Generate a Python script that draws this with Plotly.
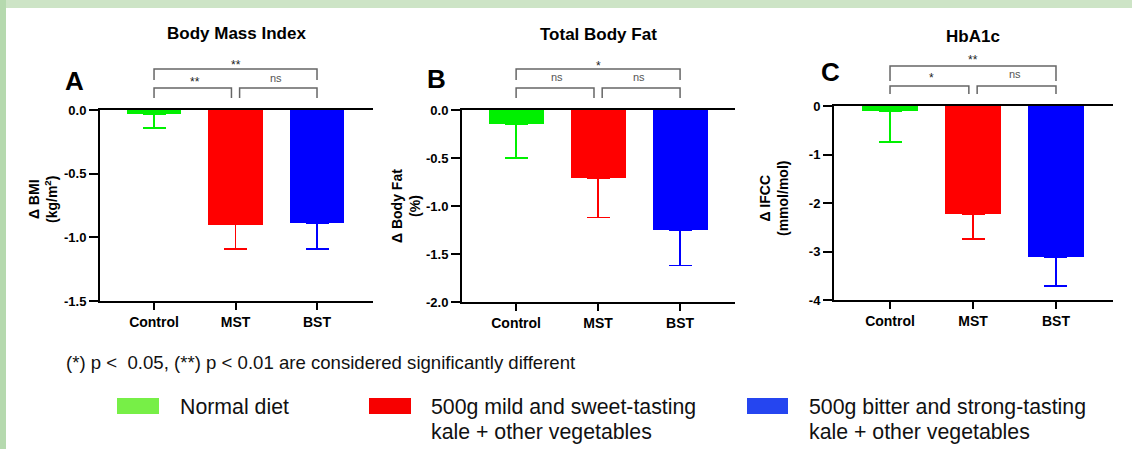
import plotly.graph_objects as go

# ---------------- data ----------------
categories = ["Control", "MST", "BST"]

bmi_mean = [-0.03, -0.90, -0.89]
bmi_err = [0.11, 0.19, 0.20]
bmi_ticks = [0, -0.5, -1.0, -1.5]
bmi_ticktext = ["0.0", "-0.5", "-1.0", "-1.5"]

fat_mean = [-0.15, -0.71, -1.25]
fat_err = [0.35, 0.41, 0.37]
fat_ticks = [0, -0.5, -1.0, -1.5, -2.0]
fat_ticktext = ["0.0", "-0.5", "-1.0", "-1.5", "-2.0"]

hba_mean = [-0.10, -2.23, -3.11]
hba_err = [0.64, 0.51, 0.60]
hba_ticks = [0, -1, -2, -3, -4]
hba_ticktext = ["0", "-1", "-2", "-3", "-4"]

# significance: (Control vs MST, MST vs BST, Control vs BST)
bmi_sig = ["**", "ns", "**"]
fat_sig = ["ns", "ns", "*"]
hba_sig = ["*", "ns", "**"]

bar_colors = ["#00f000", "#ff0000", "#0000ff"]
legend_colors = ["#77ef47", "#f70000", "#2545f0"]
legend_labels = [["Normal diet"],
                 ["500g mild and sweet-tasting", "kale + other vegetables"],
                 ["500g bitter and strong-tasting", "kale + other vegetables"]]

# ---------------- layout helpers ----------------
W, H = 1132, 449
FONT = "Arial, 'Liberation Sans', sans-serif"

def px(x):
    return x / W

def py(y):
    return 1 - y / H

panels = [
    dict(title="Body Mass Index", letter="A", mean=bmi_mean, err=bmi_err,
         ticks=bmi_ticks, ticktext=bmi_ticktext, sig=bmi_sig,
         ytitle="<b>Δ BMI</b><br><b>(kg/m<sup>2</sup>)</b>",
         xdom=(100, 373), ydom=(110, 301), xr=(-0.663, 2.687), yr=(-1.5, 0),
         title_pos=(236, 33), letter_pos=(74, 81), ytitle_pos=(43, 200),
         br_top=(41, 30), br_low=(22, 12), lab_top=48, lab_low=31),
    dict(title="Total Body Fat", letter="B", mean=fat_mean, err=fat_err,
         ticks=fat_ticks, ticktext=fat_ticktext, sig=fat_sig,
         ytitle="<b>Δ Body Fat</b><br><b>(%)</b>",
         xdom=(462, 735), ydom=(110, 302), xr=(-0.66, 2.67), yr=(-2, 0),
         title_pos=(598, 35), letter_pos=(436, 79), ytitle_pos=(406, 206),
         br_top=(41, 30), br_low=(22, 12), lab_top=47, lab_low=32),
    dict(title="HbA1c", letter="C", mean=hba_mean, err=hba_err,
         ticks=hba_ticks, ticktext=hba_ticktext, sig=hba_sig,
         ytitle="<b>Δ IFCC</b><br><b>(mmol/mol)</b>",
         xdom=(834, 1113), ydom=(106, 300), xr=(-0.675, 2.687), yr=(-4, 0),
         title_pos=(973, 37), letter_pos=(830, 72), ytitle_pos=(774, 199),
         br_top=(40, 25), br_low=(20, 12), lab_top=49, lab_low=31),
]

data = []
shapes = []
annotations = []
layout_axes = {}

for i, p in enumerate(panels, start=1):
    xa = "x" if i == 1 else f"x{i}"
    ya = "y" if i == 1 else f"y{i}"
    xkey = "xaxis" if i == 1 else f"xaxis{i}"
    ykey = "yaxis" if i == 1 else f"yaxis{i}"

    for k, cat in enumerate(categories):
        data.append(go.Bar(
            x=[k], y=[p["mean"][k]], width=0.67,
            marker=dict(color=bar_colors[k], line=dict(width=0)),
            error_y=dict(type="data", symmetric=False, array=[0],
                         arrayminus=[p["err"][k]], color=bar_colors[k],
                         thickness=1.6, width=11.5),
            xaxis=xa, yaxis=ya, showlegend=False, name=cat,
        ))

    layout_axes[xkey] = dict(
        domain=[px(p["xdom"][0]), px(p["xdom"][1])], range=list(p["xr"]),
        anchor=ya, tickvals=list(range(len(categories))), ticktext=categories,
        showline=True, linecolor="black", linewidth=2, mirror=True,
        ticks="outside", ticklen=7, tickwidth=2, tickcolor="black",
        tickfont=dict(family=FONT, size=14, color="black", weight="bold"),
        showgrid=False, zeroline=False, fixedrange=True, automargin=False,
    )
    layout_axes[ykey] = dict(
        domain=[py(p["ydom"][1]), py(p["ydom"][0])], range=list(p["yr"]),
        anchor=xa, tickvals=p["ticks"], ticktext=p["ticktext"],
        showline=True, linecolor="black", linewidth=2,
        ticks="outside", ticklen=9, tickwidth=2, tickcolor="black",
        tickfont=dict(family=FONT, size=13, color="black", weight="bold"),
        showgrid=False, zeroline=False, fixedrange=True, automargin=False,
    )

    zero = p["ydom"][0]
    bcol = "#666666"
    t_h, t_b = p["br_top"]
    shapes.append(dict(type="path", xref=xa, yref="paper",
                       path=f"M 0,{py(zero - t_b)} L 0,{py(zero - t_h)} L 2,{py(zero - t_h)} L 2,{py(zero - t_b)}",
                       line=dict(color=bcol, width=1.5)))
    l_h, l_b = p["br_low"]
    gap = 0.05
    shapes.append(dict(type="path", xref=xa, yref="paper",
                       path=f"M 0,{py(zero - l_b)} L 0,{py(zero - l_h)} L {1 - gap},{py(zero - l_h)} L {1 - gap},{py(zero - l_b)}",
                       line=dict(color=bcol, width=1.5)))
    shapes.append(dict(type="path", xref=xa, yref="paper",
                       path=f"M {1 + gap},{py(zero - l_b)} L {1 + gap},{py(zero - l_h)} L 2,{py(zero - l_h)} L 2,{py(zero - l_b)}",
                       line=dict(color=bcol, width=1.5)))

    def sig_ann(text, xpos, ypx, xa=xa):
        is_star = "*" in text
        annotations.append(dict(
            x=xpos, y=py(ypx + (3 if is_star else -1)), xref=xa, yref="paper",
            text=text, showarrow=False, xanchor="center", yanchor="middle",
            font=dict(family=FONT, size=12 if is_star else 11,
                      color="#222222" if is_star else "#555555"),
        ))

    sig_ann(p["sig"][0], 0.5, zero - p["lab_low"])
    sig_ann(p["sig"][1], 1.5, zero - p["lab_low"])
    sig_ann(p["sig"][2], 1.0, zero - p["lab_top"])

    annotations.append(dict(x=px(p["title_pos"][0]), y=py(p["title_pos"][1]),
                            xref="paper", yref="paper", text=f"<b>{p['title']}</b>",
                            showarrow=False, xanchor="center", yanchor="middle",
                            font=dict(family=FONT, size=17, color="black")))
    annotations.append(dict(x=px(p["letter_pos"][0]), y=py(p["letter_pos"][1]),
                            xref="paper", yref="paper", text=f"<b>{p['letter']}</b>",
                            showarrow=False, xanchor="center", yanchor="middle",
                            font=dict(family=FONT, size=26, color="black")))
    annotations.append(dict(x=px(p["ytitle_pos"][0]), y=py(p["ytitle_pos"][1]),
                            xref="paper", yref="paper", text=p["ytitle"],
                            showarrow=False, xanchor="center", yanchor="middle",
                            textangle=-90,
                            font=dict(family=FONT, size=14, color="black")))

fig = go.Figure(data=data)

# footnote
annotations.append(dict(x=px(64), y=py(362), xref="paper", yref="paper",
                        text="(*) p &lt;\u00a0 0.05, (**) p &lt; 0.01 are considered significantly different",
                        showarrow=False, xanchor="left", yanchor="middle",
                        font=dict(family=FONT, size=18.6, color="#111111")))

# legend (manual)
legend_box_x = [(117, 159), (369, 411), (747, 788)]
legend_text_x = [178, 429, 807]
for k in range(3):
    shapes.append(dict(type="rect", xref="paper", yref="paper",
                       x0=px(legend_box_x[k][0]), x1=px(legend_box_x[k][1]),
                       y0=py(414), y1=py(398),
                       fillcolor=legend_colors[k], line=dict(width=0)))
    for j, line in enumerate(legend_labels[k]):
        annotations.append(dict(x=px(legend_text_x[k]), y=py(407 + 25 * j),
                                xref="paper", yref="paper",
                                text=line, showarrow=False,
                                xanchor="left", yanchor="middle", align="left",
                                font=dict(family=FONT, size=21.3, color="#111111")))

# green frame
shapes.append(dict(type="rect", xref="paper", yref="paper", x0=0, x1=1,
                   y0=py(8), y1=1, fillcolor="#cde4c6", line=dict(width=0), layer="below"))
shapes.append(dict(type="rect", xref="paper", yref="paper", x0=0, x1=px(6),
                   y0=0, y1=1, fillcolor="#b5d9ae", line=dict(width=0), layer="below"))

fig.update_layout(
    width=W, height=H,
    margin=dict(l=0, r=0, t=0, b=0, pad=0, autoexpand=False),
    paper_bgcolor="white", plot_bgcolor="rgba(0,0,0,0)",
    showlegend=False, bargap=0,
    shapes=shapes, annotations=annotations,
    font=dict(family=FONT),
    **layout_axes,
)

post = (
    "document.documentElement.style.margin='0px';"
    "document.documentElement.style.padding='0px';"
    "document.documentElement.style.overflow='hidden';"
    "document.documentElement.style.background='#ffffff';"
    "document.body.style.margin='0px';"
    "document.body.style.padding='0px';"
    "document.body.style.overflow='hidden';"
    "var gd=document.getElementById('{plot_id}');"
    "gd.style.position='fixed';gd.style.left='0px';gd.style.top='0px';"
)

fig.write_html(
    "out.html",
    config={"displayModeBar": False, "responsive": False},
    post_script=post,
)
